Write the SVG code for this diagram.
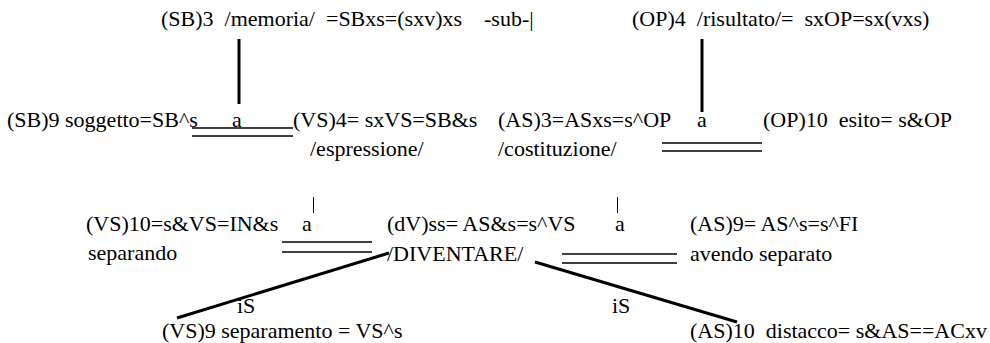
<svg xmlns="http://www.w3.org/2000/svg" width="990" height="343" viewBox="0 0 990 343">
<rect width="990" height="343" fill="#fff"/>
<g id="connectors">
<g stroke="#000" stroke-width="3" fill="none">
<line x1="239" y1="39" x2="239" y2="104"/>
<line x1="702" y1="39" x2="702" y2="112"/>
<line x1="389" y1="253" x2="177" y2="318"/>
<line x1="535" y1="262" x2="737" y2="322"/>
</g>
<g stroke="#000" stroke-width="1.3" fill="none">
<line x1="192" y1="128" x2="293" y2="128"/>
<line x1="192" y1="136" x2="293" y2="136"/>
<line x1="662" y1="143" x2="762" y2="143"/>
<line x1="662" y1="151" x2="762" y2="151"/>
<line x1="282" y1="242" x2="372" y2="242"/>
<line x1="282" y1="252" x2="372" y2="252"/>
<line x1="562" y1="254" x2="677" y2="254"/>
<line x1="562" y1="263" x2="677" y2="263"/>
</g>
<g stroke="#000" stroke-width="1" fill="none">
<line x1="313.5" y1="197" x2="313.5" y2="213"/>
<line x1="617.5" y1="197" x2="617.5" y2="213"/>
</g>
<text font-family="'Liberation Serif'" font-size="22" x="237" y="127" text-anchor="middle">a</text>
<text font-family="'Liberation Serif'" font-size="22" x="702" y="127" text-anchor="middle">a</text>
<text font-family="'Liberation Serif'" font-size="22" x="307" y="231" text-anchor="middle">a</text>
<text font-family="'Liberation Serif'" font-size="22" x="620" y="231" text-anchor="middle">a</text>
<text font-family="'Liberation Serif'" font-size="22" x="237" y="313">iS</text>
<text font-family="'Liberation Serif'" font-size="22" x="612" y="313">iS</text>
</g>
<g id="SB3"><text font-family="'Liberation Serif'" font-size="22" style="white-space:pre" x="161" y="26">(SB)3  /memoria/  =SBxs=(sxv)xs    -sub-|</text></g>
<g id="OP4"><text font-family="'Liberation Serif'" font-size="22" style="white-space:pre" x="632" y="26">(OP)4  /risultato/=  sxOP=sx(vxs)</text></g>
<g id="SB9"><text font-family="'Liberation Serif'" font-size="22" x="7" y="127">(SB)9 soggetto=SB^s</text></g>
<g id="VS4"><text font-family="'Liberation Serif'" font-size="22" x="293" y="127">(VS)4= sxVS=SB&amp;s</text><text font-family="'Liberation Serif'" font-size="22" x="310" y="156">/espressione/</text></g>
<g id="AS3"><text font-family="'Liberation Serif'" font-size="22" x="498" y="127">(AS)3=ASxs=s^OP</text><text font-family="'Liberation Serif'" font-size="22" x="498" y="156">/costituzione/</text></g>
<g id="OP10"><text font-family="'Liberation Serif'" font-size="22" style="white-space:pre" x="763" y="127">(OP)10  esito= s&amp;OP</text></g>
<g id="VS10"><text font-family="'Liberation Serif'" font-size="22" x="86" y="231">(VS)10=s&amp;VS=IN&amp;s</text><text font-family="'Liberation Serif'" font-size="22" x="88" y="260">separando</text></g>
<g id="dV"><text font-family="'Liberation Serif'" font-size="22" x="387" y="231">(dV)ss= AS&amp;s=s^VS</text><text font-family="'Liberation Serif'" font-size="22" x="387" y="261">/DIVENTARE/</text></g>
<g id="AS9"><text font-family="'Liberation Serif'" font-size="22" x="690" y="231">(AS)9= AS^s=s^FI</text><text font-family="'Liberation Serif'" font-size="22" x="690" y="261">avendo separato</text></g>
<g id="VS9"><text font-family="'Liberation Serif'" font-size="22" x="162" y="338">(VS)9 separamento = VS^s</text></g>
<g id="AS10"><text font-family="'Liberation Serif'" font-size="22" style="white-space:pre" x="690" y="338">(AS)10  distacco= s&amp;AS==ACxv</text></g>
</svg>
